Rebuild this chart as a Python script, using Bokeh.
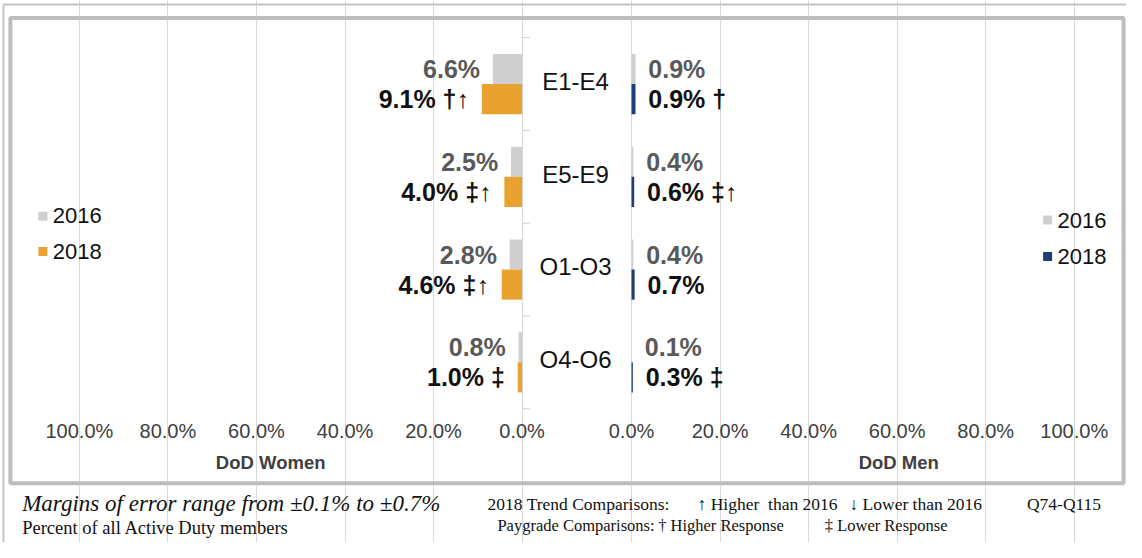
from bokeh.plotting import figure
from bokeh.models import Range1d, Grid, FixedTicker, ColumnDataSource
from bokeh.core.properties import value
from bokeh.embed import file_html
from bokeh.resources import INLINE

# ---------------- data ----------------
categories = ["E1-E4", "E5-E9", "O1-O3", "O4-O6"]
women_2016 = [6.6, 2.5, 2.8, 0.8]
women_2018 = [9.1, 4.0, 4.6, 1.0]
men_2016 = [0.9, 0.4, 0.4, 0.1]
men_2018 = [0.9, 0.6, 0.7, 0.3]
women_2018_flags = ["†↑", "‡↑", "‡↑", "‡"]
men_2018_flags = ["†", "‡↑", "", "‡"]
tick_values = [0, 20, 40, 60, 80, 100]
tick_labels = ["0.0%", "20.0%", "40.0%", "60.0%", "80.0%", "100.0%"]
years = ["2016", "2018"]
panel_titles = ["DoD Women", "DoD Men"]

# ---------------- styling / layout ----------------
GRAY = "#CFCFCF"
ORANGE = "#E9A22F"
NAVY = "#1F3E78"
W, H = 1126, 542
REF_W, REF_H = 1142, 558
PCT_PX = 4.49          # reference pixels per percentage point
ZERO_W = 529           # reference x of women's 0%
GAP = (640 - 529) / PCT_PX   # distance between the two zero lines (pct units)
ROW_PX = 95.5          # reference pixels per category row
ROW0 = 86              # reference y of first row centre
BAR_H = 0.325
OFF = 0.162


def X(ref_px):
    return (ref_px - ZERO_W) / PCT_PX


def Y(ref_px):
    return (ref_px - ROW0) / ROW_PX


FONT = value("Liberation Sans")
SERIF = value("Liberation Serif")

p = figure(width=W, height=H,
           x_range=Range1d(X(0), X(REF_W)),
           y_range=Range1d(Y(REF_H), Y(0)),
           x_axis_type=None, y_axis_type=None,
           toolbar_location=None, output_backend="svg",
           min_border=0, outline_line_color=None)
p.background_fill_color = "white"

# gridlines for both panels
grid_ticks = [-t for t in tick_values] + [GAP + t for t in tick_values]
p.add_layout(Grid(dimension=0, ticker=FixedTicker(ticks=grid_ticks),
                  bounds=(Y(37), Y(425)), grid_line_color="#D9D9D9",
                  grid_line_width=1))

# women's category axis ticks
bounds = [i - 0.5 for i in range(len(categories) + 1)]
p.segment(x0=[0] * len(bounds), x1=[1.8] * len(bounds), y0=bounds, y1=bounds,
          line_color="#D0D0D0", line_width=1)

rows = list(range(len(categories)))
src = ColumnDataSource(dict(
    y16=[r - OFF for r in rows], y18=[r + OFF for r in rows],
    w16_left=[-v for v in women_2016], w18_left=[-v for v in women_2018],
    m16_right=[GAP + v for v in men_2016], m18_right=[GAP + v for v in men_2018],
    zero=[0] * 4, gap=[GAP] * 4,
))

p.hbar(y="y16", left="w16_left", right="zero", height=BAR_H, source=src,
       fill_color=GRAY, line_color=None)
p.hbar(y="y18", left="w18_left", right="zero", height=BAR_H, source=src,
       fill_color=ORANGE, line_color=None)
p.hbar(y="y16", left="gap", right="m16_right", height=BAR_H, source=src,
       fill_color=GRAY, line_color=None)
p.hbar(y="y18", left="gap", right="m18_right", height=BAR_H, source=src,
       fill_color=NAVY, line_color=None)

LAB_PAD = 2.9


def lbl(v, flag=""):
    return (f"{v:.1f}% {flag}").strip()


VAL_SIZE = "25px"
p.text(x=[-v - LAB_PAD for v in women_2016], y=[r - OFF for r in rows],
       text=[lbl(v) for v in women_2016], text_align="right",
       text_baseline="middle", text_font=FONT, text_font_style="bold",
       text_font_size=VAL_SIZE, text_color="#595959")
p.text(x=[-v - LAB_PAD for v in women_2018], y=[r + OFF for r in rows],
       text=[lbl(v, f) for v, f in zip(women_2018, women_2018_flags)],
       text_align="right", text_baseline="middle", text_font=FONT,
       text_font_style="bold", text_font_size=VAL_SIZE, text_color="#111111")
p.text(x=[GAP + v + LAB_PAD for v in men_2016], y=[r - OFF for r in rows],
       text=[lbl(v) for v in men_2016], text_align="left",
       text_baseline="middle", text_font=FONT, text_font_style="bold",
       text_font_size=VAL_SIZE, text_color="#595959")
p.text(x=[GAP + v + LAB_PAD for v in men_2018], y=[r + OFF for r in rows],
       text=[lbl(v, f) for v, f in zip(men_2018, men_2018_flags)],
       text_align="left", text_baseline="middle", text_font=FONT,
       text_font_style="bold", text_font_size=VAL_SIZE, text_color="#111111")

# category labels in the middle
p.text(x=[GAP / 2 - 0.3] * 4, y=[r - 0.03 for r in rows], text=categories,
       text_align="center", text_baseline="middle", text_font=FONT,
       text_font_size="24px", text_color="#111111")

# tick labels
p.text(x=[-t for t in tick_values] + [GAP + t for t in tick_values],
       y=[Y(443)] * 12, text=tick_labels + tick_labels,
       text_align="center", text_baseline="middle", text_font=FONT,
       text_font_size="20px", text_color="#404040")

# panel titles
p.text(x=[X(274), X(911)], y=[Y(476)] * 2, text=panel_titles,
       text_align="center", text_baseline="middle", text_font=FONT,
       text_font_style="bold", text_font_size="18.5px", text_color="#404040")

# legends
p.scatter(x=[X(43)] * 2, y=[Y(222), Y(258.5)], marker="square", size=9,
          fill_color=[GRAY, ORANGE], line_color=None)
p.text(x=[X(53)] * 2, y=[Y(221), Y(258)], text=years, text_align="left",
       text_baseline="middle", text_font=FONT, text_font_size="22px",
       text_color="#111111")
p.scatter(x=[X(1062)] * 2, y=[Y(226), Y(263.5)], marker="square", size=9,
          fill_color=[GRAY, NAVY], line_color=None)
p.text(x=[X(1072)] * 2, y=[Y(227), Y(264)], text=years, text_align="left",
       text_baseline="middle", text_font=FONT, text_font_size="22px",
       text_color="#111111")

# borders
p.quad(left=[X(10)], right=[X(1139)], top=[Y(18)], bottom=[Y(497)],
       fill_color=None, line_color="#BDBDBD", line_width=4)
p.line(x=[X(3), X(3)], y=[Y(4), Y(558)], line_color="#C4C4C4", line_width=2)
p.line(x=[X(3), X(1142)], y=[Y(4), Y(4)], line_color="#C4C4C4", line_width=2)

# footer
p.text(x=[X(22)], y=[Y(518)], text=["Margins of error range from ±0.1% to ±0.7%"],
       text_align="left", text_baseline="middle", text_font=SERIF,
       text_font_style="italic", text_font_size="23px", text_color="#111111")
p.text(x=[X(22)], y=[Y(543)], text=["Percent of all Active Duty members"],
       text_align="left", text_baseline="middle", text_font=SERIF,
       text_font_size="18.5px", text_color="#111111")

foot_line1 = ["2018 Trend Comparisons:", "\u2191 Higher\u00a0 than 2016",
              "\u2193 Lower than 2016", "Q74-Q115"]
foot_line1_x = [494, 707, 861, 1041]
foot_line2 = ["Paygrade Comparisons:", "\u2020 Higher Response",
              "\u2021 Lower Response"]
foot_line2_x = [504, 667, 836]
p.text(x=[X(v) for v in foot_line1_x], y=[Y(518)] * len(foot_line1),
       text=foot_line1, text_align="left", text_baseline="middle",
       text_font=SERIF, text_font_size="17.5px", text_color="#111111")
p.text(x=[X(v) for v in foot_line2_x], y=[Y(541)] * len(foot_line2),
       text=foot_line2, text_align="left", text_baseline="middle",
       text_font=SERIF, text_font_size="16.5px", text_color="#111111")

open("out.html", "w").write(file_html(p, INLINE))
